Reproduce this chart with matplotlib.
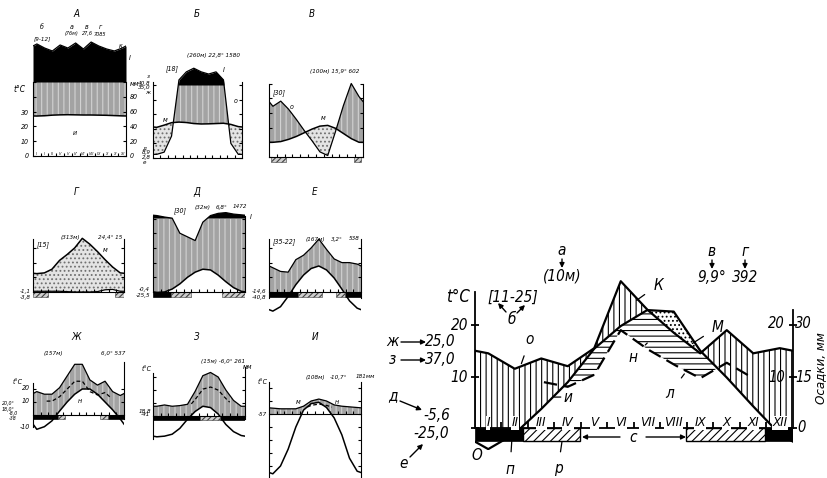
import numpy as np
import matplotlib.pyplot as plt
from matplotlib.patches import Rectangle

plt.rcParams['font.family'] = 'DejaVu Sans'
plt.rcParams['font.style'] = 'italic'
plt.rcParams['font.stretch'] = 'condensed'
plt.rcParams['hatch.linewidth'] = 0.8

W, H = 828, 478
MONTHS = ['I', 'II', 'III', 'IV', 'V', 'VI', 'VII', 'VIII', 'IX', 'X', 'XI', 'XII']

# === Data: monthly mean temperature (C) and precipitation (mm) ===
# big explanatory diagram
big_temp = [-4.1, -1.1, 3.7, 8.9, 15.4, 19.8, 22.9, 22.6, 15.0, 9.8, 4.2, -1.2]
big_prec = [29, 23, 27, 24, 31, 57, 46, 37, 29, 38, 29, 31]
big_black = [(0, 1.81), (10.94, 12)]      # months with frost (black bar)
big_hatch = [(1.81, 3.96), (7.96, 10.94)]  # occasional frost (hatched bar)

temp_a = [27.0, 27.2, 27.6, 27.8, 27.9, 27.8, 27.7, 27.7, 27.6, 27.5, 27.3, 27.1]
prec_a = [614, 559, 519, 600, 559, 627, 546, 640, 586, 546, 519, 559]

temp_b = [21.0, 22.5, 24.2, 24.6, 24.3, 23.6, 23.3, 23.4, 23.6, 23.8, 23.0, 21.5]
prec_b = [5, 8, 30, 170, 280, 330, 280, 250, 280, 170, 20, 5]

temp_v = [10.0, 10.5, 12.0, 14.0, 16.5, 19.0, 21.0, 21.5, 19.5, 16.0, 12.5, 10.0]
prec_v = [69, 76, 65, 51, 36, 22, 7, 2, 35, 70, 100, 82]
hatch_v = [(0.2, 2.2), (10.8, 11.8)]

temp_g = [12.5, 13.0, 15.5, 21.5, 25.5, 30.0, 36.5, 32.5, 27.5, 22.0, 17.0, 13.0]
prec_g = [1, 1, 1, 1, 0.5, 0, 0, 0, 0.5, 3, 3.5, 1]
hatch_g = [(0, 2.0), (10.8, 12)]

temp_d = [-0.3, 0.0, 2.0, 5.5, 10.0, 13.5, 15.5, 15.0, 11.5, 7.0, 3.0, 0.5]
prec_d = [140, 120, 105, 80, 75, 70, 95, 140, 170, 180, 160, 150]
black_d = [(0, 2.4)]
hatch_d = [(2.4, 5.0), (9.0, 12)]

temp_e = [-13.0, -10.0, -3.0, 5.0, 11.5, 16.0, 17.7, 15.0, 9.5, 2.0, -6.0, -11.0]
prec_e = [33, 28, 27, 44, 50, 60, 72, 58, 45, 40, 40, 38]
black_e = [(0, 3.8), (9.9, 12)]
hatch_e = [(3.8, 6.9), (8.8, 9.9)]

temp_zh = [-11.0, -9.0, -4.5, 3.0, 10.0, 16.0, 20.0, 20.0, 16.0, 10.0, 4.0, -3.0]
prec_zh = [36, 32, 32, 42, 60, 78, 78, 54, 46, 52, 36, 30]
black_zh = [(0, 3.3), (9.9, 12)]
hatch_zh = [(3.3, 4.2), (8.8, 9.9)]

temp_z = [-16.0, -15.5, -14.0, -9.5, -2.5, 3.5, 7.5, 6.5, 1.5, -6.5, -12.0, -15.0]
prec_z = [15, 17, 15, 16, 18, 38, 62, 67, 60, 40, 24, 15]
black_z = [(0, 6.1), (8.7, 12)]
hatch_z = [(6.1, 8.7)]

temp_i = [-46.0, -40.0, -27.0, -10.0, 3.0, 8.0, 9.0, 5.0, -3.0, -16.0, -34.0, -44.0]
prec_i = [9, 8, 8, 8, 12, 20, 23, 20, 14, 12, 11, 10]

XS = np.linspace(0, 12, 1201)


def chart_prec(p):
    # 10 C = 20 mm, above 100 mm the scale is reduced tenfold
    p = np.asarray(p, float)
    return np.where(p <= 100, p / 2, 50 + (p - 100) / 20)


def closed(vals):
    v = np.asarray(vals, float)
    edge = (v[0] + v[-1]) / 2
    return np.r_[0, np.arange(12) + 0.5, 12], np.r_[edge, v, edge]


def dense(vals):
    return np.interp(XS, *closed(vals))


fig = plt.figure(figsize=(W / 100, H / 100), dpi=100)
fig.patch.set_facecolor('white')


def px_axes(x0, x1, y0, y1):
    return fig.add_axes([x0 / W, 1 - y1 / H, (x1 - x0) / W, (y1 - y0) / H])


def fpx(x, y):
    return (x, H - y)


def ftext(x, y, s, size=5, ha='center', **kw):
    fig.text(x / W, 1 - y / H, s, fontsize=size, ha=ha, va='center', **kw)


def climate(lay, temp, prec, black=(), hatched=(), big=False, dashed=None):
    x0, x1, y0, y1 = lay['box']
    zero, sc = lay['zero'], lay['scale']
    ax = px_axes(x0, x1, y0, y1)
    ax.set_xlim(0, 12)
    ax.set_ylim((zero - y1) / sc * 10, (zero - y0) / sc * 10)
    ax.patch.set_alpha(0)
    t = dense(temp)
    p = dense(chart_prec(prec))
    if big:
        wet = dict(facecolor='white', edgecolor='black', hatch='|||', lw=0)
        dry = dict(facecolor='white', edgecolor='black', hatch='....', lw=0)
        frost = dict(facecolor='white', edgecolor='black', hatch='////', lw=1.0)
        lw_t, lw_p, lw_s = 1.6, 1.6, 1.3
    else:
        wet = dict(facecolor='#a3a3a3', edgecolor='#d2d2d2', hatch='|||', lw=0)
        dry = dict(facecolor='#e4e4e4', edgecolor='#707070', hatch='....', lw=0)
        frost = dict(facecolor='#cfcfcf', edgecolor='#404040', hatch='//////', lw=0.4)
        lw_t, lw_p, lw_s = 1.1, 0.9, 0.8
    ax.fill_between(XS, np.maximum(t, 0), np.minimum(p, 50), where=p > t,
                    interpolate=True, **wet)
    ax.fill_between(XS, 50, p, where=p > 50, interpolate=True,
                    color='black', lw=0)
    ax.fill_between(XS, p, t, where=t > p, interpolate=True, **dry)
    if dashed is not None:
        d = dense(np.asarray(prec, float) / 3)
        if big:
            low = np.minimum(t, p)
            ax.fill_between(XS, d, low, where=low > d, interpolate=True,
                            facecolor='white', edgecolor='black',
                            hatch='---', lw=0)
        m = (XS >= dashed[0]) & (XS <= dashed[1])
        ax.plot(XS[m], d[m], color='black', lw=lw_p,
                ls=(0, (6, 3)) if big else (0, (3, 2)))
    ax.plot(*closed(chart_prec(prec)), color='black', lw=lw_p, zorder=3)
    ax.plot(*closed(temp), color='black', lw=lw_t, zorder=3)
    bh = lay['bar'] / sc * 10
    for a, b in black:
        ax.add_patch(Rectangle((a, -bh), b - a, bh, facecolor='black',
                               edgecolor='black', lw=0.5, zorder=4))
    for a, b in hatched:
        ax.add_patch(Rectangle((a, -bh), b - a, bh, zorder=4, **frost))
    ax.spines['top'].set_visible(False)
    ax.spines['bottom'].set_position(('data', 0))
    ax.spines['bottom'].set_bounds(0, 12)
    ax.spines['left'].set_bounds(*lay['left'])
    ax.spines['right'].set_bounds(*lay['right'])
    for s in ax.spines.values():
        s.set_linewidth(lw_s)
        s.set_zorder(5)
    lo = max(lay['left'][0], lay['right'][0])
    hi = min(lay['left'][1], lay['right'][1])
    ax.set_yticks([v for v in range(-60, 70, 10) if lo <= v <= hi])
    ax.set_xticks(range(1, 12))
    ax.tick_params(axis='x', direction='in', length=4 if big else 2,
                   width=lw_s, labelbottom=False)
    ax.tick_params(axis='y', direction='inout' if big else 'in',
                   length=6 if big else 2, width=lw_s, right=True,
                   labelleft=False)
    return ax


# === Layout of the panels (pixel boxes) ===
LAY = {
    'a': dict(box=(33, 126, 38, 162), zero=156, scale=14.8, bar=5, left=(0, 50), right=(0, 50)),
    'b': dict(box=(153, 242, 55, 172), zero=158, scale=14.6, bar=5, left=(0, 52), right=(0, 52)),
    'v': dict(box=(269, 363, 75, 166), zero=157, scale=14.7, bar=5, left=(0, 50), right=(0, 50)),
    'g': dict(box=(33, 124, 228, 302), zero=292, scale=14.7, bar=5, left=(0, 36), right=(0, 36)),
    'd': dict(box=(153, 245, 200, 300), zero=292, scale=14.7, bar=5, left=(0, 52), right=(0, 52)),
    'e': dict(box=(269, 361, 228, 314), zero=292, scale=14.7, bar=5, left=(-4, 36), right=(-4, 36)),
    'zh': dict(box=(33, 124, 352, 432), zero=415, scale=13, bar=4, left=(-9, 25), right=(-3, 41)),
    'z': dict(box=(153, 245, 362, 444), zero=416, scale=13, bar=4, left=(-18, 33), right=(-2, 38)),
    'i': dict(box=(269, 361, 372, 478), zero=414, scale=13, bar=4, left=(-49, 25), right=(-49, 25)),
    'big': dict(box=(475, 793, 275, 450), zero=428, scale=51.5, bar=13, left=(0, 26.4), right=(0, 23)),
}

ax_a = climate(LAY['a'], temp_a, prec_a)
for i, mname in enumerate(MONTHS):
    ax_a.text(i + 0.5, 1.4, mname, fontsize=2.8, ha='center', va='center')
climate(LAY['b'], temp_b, prec_b)
climate(LAY['v'], temp_v, prec_v, hatched=hatch_v)
climate(LAY['g'], temp_g, prec_g, hatched=hatch_g)
climate(LAY['d'], temp_d, prec_d, black=black_d, hatched=hatch_d)
climate(LAY['e'], temp_e, prec_e, black=black_e, hatched=hatch_e)
climate(LAY['zh'], temp_zh, prec_zh, black=black_zh, hatched=hatch_zh, dashed=(1.8, 10.2))
climate(LAY['z'], temp_z, prec_z, black=black_z, hatched=hatch_z, dashed=(5.0, 10.0))
climate(LAY['i'], temp_i, prec_i, dashed=(5.0, 8.2))

ax = climate(LAY['big'], big_temp, big_prec, black=big_black,
             hatched=big_hatch, big=True, dashed=(2.6, 10.4))
for i, mname in enumerate(MONTHS):
    ax.text(i + 0.5, 1.0, mname, fontsize=9.5, ha='center', va='center',
            bbox=dict(facecolor='white', edgecolor='none', pad=0.3), zorder=6)

# === Small-panel texts ===
SMALL_TEXT = [
    (76, 14, 'А', 7), (197, 14, 'Б', 7), (312, 14, 'В', 7),
    (76, 192, 'Г', 7), (197, 192, 'Д', 7), (315, 192, 'Е', 7),
    (76, 337, 'Ж', 7), (197, 337, 'З', 7), (315, 337, 'И', 7),
    (42, 27, 'б', 5), (42, 39, '[9-12]', 4.5), (72, 27, 'а', 5), (72, 34, '(76м)', 4),
    (87, 27, 'в', 5), (87, 34, '27,6', 4), (100, 27, 'г', 5), (100, 34, '7085', 4),
    (121, 46, 'к', 5), (130, 58, 'I', 5), (20, 89, 't°C', 6),
    (29, 113, '30', 5, 'right'), (29, 127, '20', 5, 'right'),
    (29, 142, '10', 5, 'right'), (29, 156, '0', 5, 'right'),
    (130, 84, 'мм', 5, 'left'), (130, 97, '80', 5, 'left'), (130, 112, '60', 5, 'left'),
    (130, 127, '40', 5, 'left'), (130, 142, '20', 5, 'left'), (130, 156, '0', 5, 'left'),
    (75, 133, 'и', 5),
    (214, 56, '(260м) 22,8° 1580', 4.5), (172, 69, '[18]', 5), (224, 70, 'I', 5),
    (150, 77, 'з', 4.5, 'right'), (151, 83, '40,8', 4.5, 'right'),
    (151, 88, '35,0', 4.5, 'right'), (150, 93, 'ж', 4.5, 'right'),
    (146, 148, 'д', 4.5, 'right'), (151, 153, '8,9', 4.5, 'right'),
    (151, 158, '2,8', 4.5, 'right'), (146, 163, 'е', 4.5, 'right'),
    (236, 101, 'о', 5), (165, 120, 'м', 5),
    (335, 72, '(100м) 15,9° 602', 4.5), (279, 93, '[30]', 5), (292, 107, 'о', 5), (323, 118, 'м', 5),
    (43, 245, '[15]', 5), (70, 237, '(313м)', 4.5), (110, 237, '24,4° 15', 4.5),
    (105, 250, 'м', 5), (31, 292, '-1,1', 4.5, 'right'), (31, 297, '-3,8', 4.5, 'right'),
    (180, 211, '[30]', 5), (203, 207, '(32м)', 4.5), (222, 207, '6,8°', 4.5),
    (240, 207, '1472', 4.5), (251, 217, 'I', 5),
    (150, 290, '-0,4', 4.5, 'right'), (150, 296, '-25,5', 4.5, 'right'),
    (284, 242, '[35-22]', 5), (315, 239, '(167м)', 4.5), (337, 239, '3,2°', 4.5),
    (354, 239, '538', 4.5), (266, 292, '-14,6', 4.5, 'right'), (266, 297, '-40,8', 4.5, 'right'),
    (53, 353, '(157м)', 4.5), (113, 353, '6,0° 537', 4.5), (18, 382, 't°C', 5),
    (30, 388, '20', 5, 'right'), (30, 401, '10', 5, 'right'), (30, 427, '-10', 5, 'right'),
    (8, 404, '20,0°', 3.8), (8, 409, '18,0°', 3.8), (13, 413, '-8,0', 3.8), (13, 418, '-38', 3.8),
    (80, 401, 'н', 5),
    (223, 362, '(15м) -6,0° 261', 4.5), (147, 369, 't°C', 5), (248, 367, 'мм', 5),
    (145, 411, '18,8', 4.5), (145, 415, '-41', 4.5),
    (315, 377, '(108м)', 4.5), (338, 377, '-10,7°', 4.5), (365, 377, '181мм', 4.5),
    (263, 382, 't°C', 5), (262, 414, '-57', 4.5), (298, 402, 'м', 5), (337, 402, 'н', 5),
]
for item in SMALL_TEXT:
    x, y, s, size = item[:4]
    ftext(x, y, s, size, ha=item[4] if len(item) > 4 else 'center')

# === Big-panel texts ===
BIG_TEXT = [
    (458, 297, 't°C', 12), (468, 325, '20', 11, 'right'), (468, 378, '10', 11, 'right'),
    (513, 297, '[11-25]', 11), (512, 320, 'б', 11),
    (562, 251, 'а', 11), (562, 276, '(10м)', 11),
    (712, 252, 'в', 11), (712, 277, '9,9°', 11),
    (745, 252, 'г', 11), (745, 277, '392', 11),
    (392, 342, 'ж', 11), (440, 342, '25,0', 11),
    (392, 360, 'з', 11), (440, 360, '37,0', 11),
    (393, 396, 'д', 11), (437, 415, '-5,6', 11),
    (431, 433, '-25,0', 11), (404, 463, 'е', 11),
    (477, 455, 'О', 11), (633, 438, 'с', 11),
    (785, 324, '20', 10.5, 'right'), (795, 324, '30', 10.5, 'left'),
    (785, 378, '10', 10.5, 'right'), (795, 378, '15', 10.5, 'left'),
    (797, 428, '0', 10.5, 'left'),
]
for item in BIG_TEXT:
    x, y, s, size = item[:4]
    ftext(x, y, s, size, ha=item[4] if len(item) > 4 else 'center')
ftext(821, 368, 'Осадки, мм', 9.5, rotation=90)

ARROWS = [
    ((506, 312), (498, 303)), ((517, 313), (525, 305)),
    ((562, 259), (562, 268)), ((712, 260), (712, 269)), ((745, 260), (745, 269)),
    ((401, 342), (426, 342)), ((401, 360), (426, 360)),
    ((400, 401), (422, 410)), ((410, 457), (423, 444)),
    ((620, 437), (582, 437)), ((646, 437), (686, 437)),
]
for a, b in ARROWS:
    ax.annotate('', xy=fpx(*b), xycoords='figure pixels', xytext=fpx(*a),
                textcoords='figure pixels',
                arrowprops=dict(arrowstyle='-|>', lw=1.0, color='black',
                                mutation_scale=7, shrinkA=0, shrinkB=0))

LEADERS = [
    ('о', (1.75, 12.5), (530, 339)), ('и', (3.0, 6.0), (568, 397)),
    ('К', (6.1, 24.8), (658, 285)), ('М', (8.2, 16.4), (718, 327)),
    ('н', (6.5, 16.5), (633, 357)), ('л', (7.9, 10.5), (670, 393)),
    ('п', (1.4, -1.5), (510, 469)), ('р', (3.3, -2.0), (558, 469)),
]
for s, xy, tp in LEADERS:
    ax.annotate(s, xy=xy, xytext=fpx(*tp), textcoords='figure pixels',
                fontsize=11, ha='center', va='center', annotation_clip=False,
                arrowprops=dict(arrowstyle='-', lw=0.9, color='black',
                                shrinkA=5, shrinkB=0))

fig.savefig('out.png', dpi=100, facecolor='white')
